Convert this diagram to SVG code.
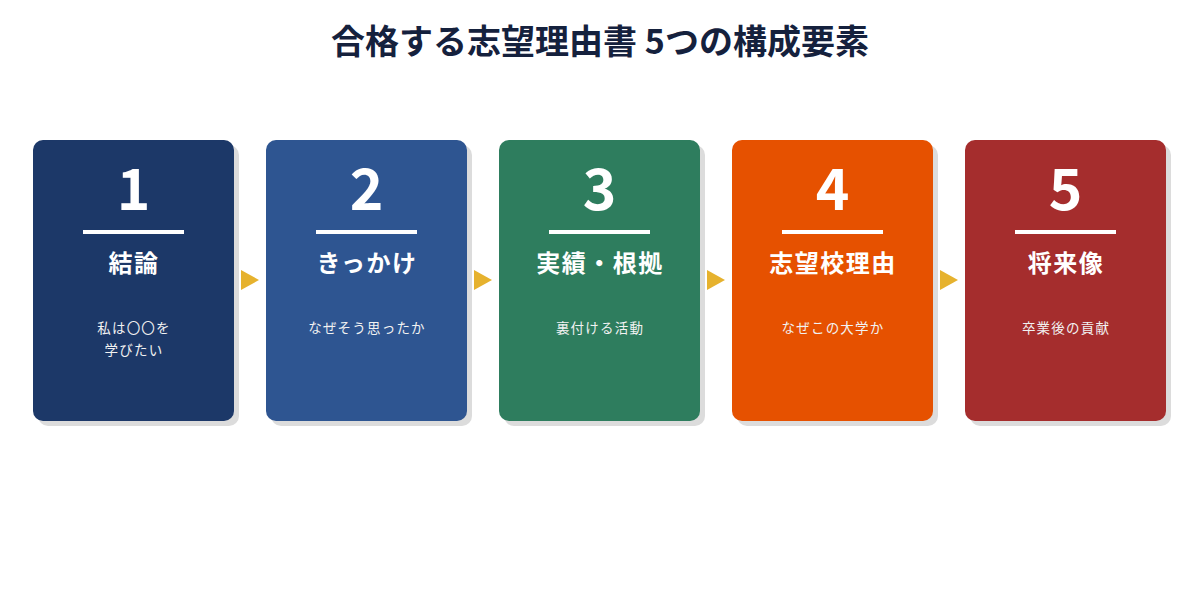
<svg xmlns="http://www.w3.org/2000/svg" width="1200" height="600" viewBox="0 0 1200 600">
<style>
.bg{fill:#ffffff}
.shadow{fill:#dcdcdc}
.num{font-family:"Noto Sans CJK JP","Liberation Sans",sans-serif;font-weight:700;font-size:57px;fill:#ffffff;text-anchor:middle}
.rule{fill:#ffffff}
.ttl{font-family:"Noto Sans CJK JP","Liberation Sans",sans-serif;font-weight:700;font-size:24px;fill:#ffffff;text-anchor:middle;letter-spacing:1.5px}
.sub{font-family:"Noto Sans CJK JP","Liberation Sans",sans-serif;font-size:13.5px;fill:#f2f2f2;text-anchor:middle;letter-spacing:1.2px}
.head{font-family:"Noto Sans CJK JP","Liberation Sans",sans-serif;font-weight:700;font-size:34px;fill:#15213d;text-anchor:middle}
.arrow{fill:#e6b22e}
</style>
<rect class="bg" x="0" y="0" width="1200" height="600"/>
<text class="head" x="600" y="54">合格する志望理由書 5つの構成要素</text>

<g id="node1">
<rect class="shadow" x="38" y="145" width="201" height="281" rx="10"/>
<rect x="33" y="140" width="201" height="281" rx="10" fill="#1c3868"/>
<text class="num" x="133.5" y="210">1</text>
<rect class="rule" x="83" y="230" width="101" height="4"/>
<text class="ttl" x="134" y="272">結論</text>
<text class="sub" x="134" y="333">私は〇〇を</text>
<text class="sub" x="134" y="355">学びたい</text>
</g>

<g id="node2">
<rect class="shadow" x="271" y="145" width="201" height="281" rx="10"/>
<rect x="266" y="140" width="201" height="281" rx="10" fill="#2e5591"/>
<text class="num" x="366.5" y="210">2</text>
<rect class="rule" x="316" y="230" width="101" height="4"/>
<text class="ttl" x="367" y="272">きっかけ</text>
<text class="sub" x="367" y="333">なぜそう思ったか</text>
</g>

<g id="node3">
<rect class="shadow" x="504" y="145" width="201" height="281" rx="10"/>
<rect x="499" y="140" width="201" height="281" rx="10" fill="#2e7d5e"/>
<text class="num" x="599.5" y="210">3</text>
<rect class="rule" x="549" y="230" width="101" height="4"/>
<text class="ttl" x="600" y="272">実績・根拠</text>
<text class="sub" x="600" y="333">裏付ける活動</text>
</g>

<g id="node4">
<rect class="shadow" x="737" y="145" width="201" height="281" rx="10"/>
<rect x="732" y="140" width="201" height="281" rx="10" fill="#e65100"/>
<text class="num" x="832.5" y="210">4</text>
<rect class="rule" x="782" y="230" width="101" height="4"/>
<text class="ttl" x="833" y="272">志望校理由</text>
<text class="sub" x="833" y="333">なぜこの大学か</text>
</g>

<g id="node5">
<rect class="shadow" x="970" y="145" width="201" height="281" rx="10"/>
<rect x="965" y="140" width="201" height="281" rx="10" fill="#a52d2d"/>
<text class="num" x="1065.5" y="210">5</text>
<rect class="rule" x="1015" y="230" width="101" height="4"/>
<text class="ttl" x="1066" y="272">将来像</text>
<text class="sub" x="1066" y="333">卒業後の貢献</text>
</g>

<g id="connectors">
<polygon class="arrow" points="241,270 259,280 241,290"/>
<polygon class="arrow" points="474,270 492,280 474,290"/>
<polygon class="arrow" points="707,270 725,280 707,290"/>
<polygon class="arrow" points="940,270 958,280 940,290"/>
</g>
</svg>
